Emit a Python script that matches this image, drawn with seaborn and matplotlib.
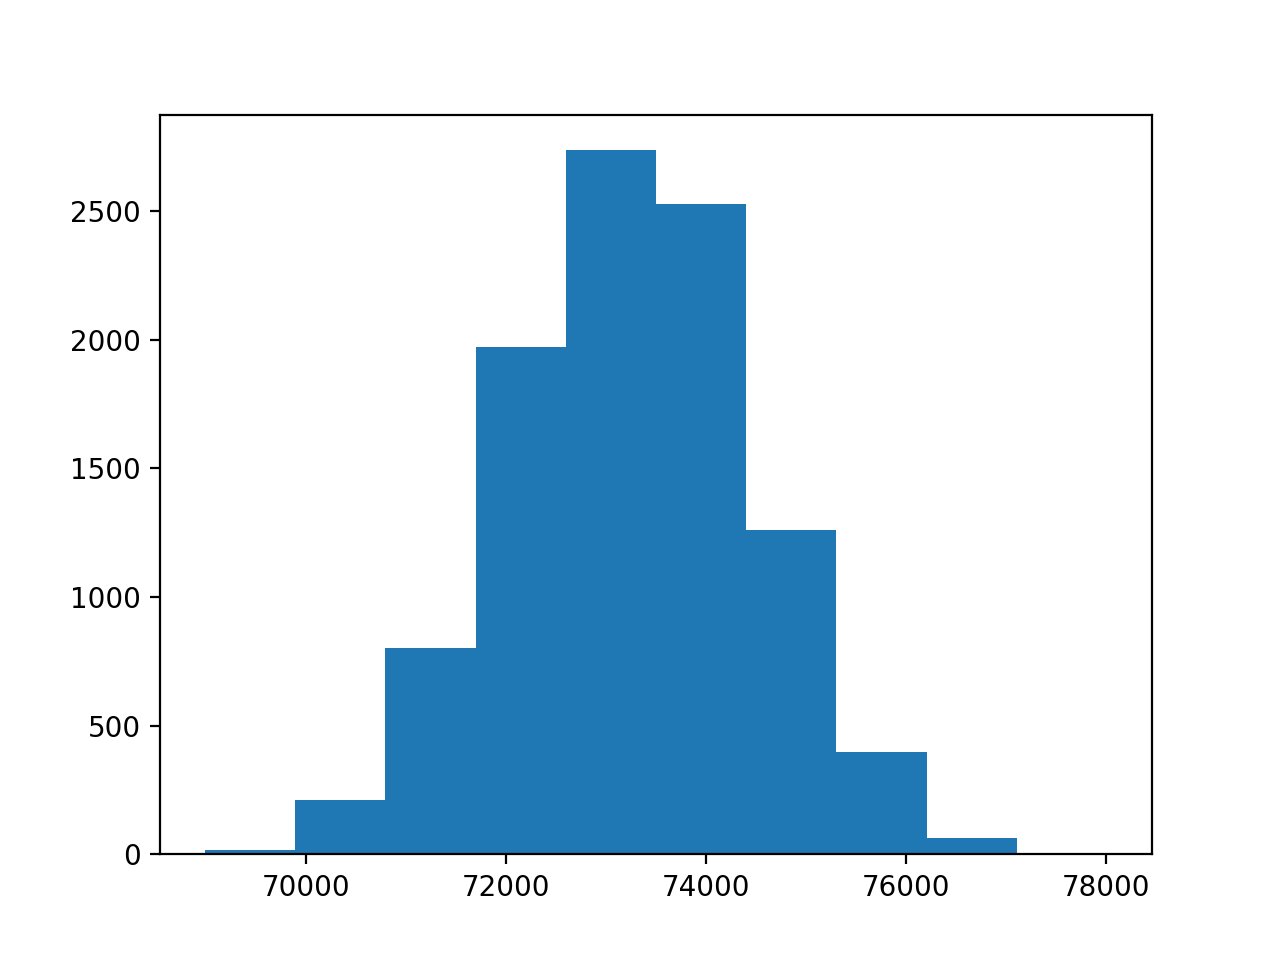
import numpy as np
import matplotlib
matplotlib.use("Agg")
import matplotlib.pyplot as plt
import seaborn as sns

# histogram bins
bin_edges = [68990, 69892, 70794, 71696, 72598, 73500, 74402, 75304, 76206, 77108, 78010]
counts = [17, 212, 804, 1970, 2736, 2528, 1262, 399, 64, 1]

centers = [(a + b) / 2 for a, b in zip(bin_edges[:-1], bin_edges[1:])]

plt.figure(figsize=(6.4, 4.8), dpi=200)
ax = plt.gca()
sns.histplot(x=centers, weights=counts, bins=bin_edges, ax=ax,
             color="#1f77b4", alpha=1.0, edgecolor="none", linewidth=0)
ax.set_ylabel("")
ax.set_xlabel("")
ax.set_xlim(68539, 78461)
ax.set_ylim(0, max(counts) * 1.05)
ax.set_xticks([70000, 72000, 74000, 76000, 78000])
ax.set_yticks([0, 500, 1000, 1500, 2000, 2500])

plt.savefig("out.png", dpi=200)
